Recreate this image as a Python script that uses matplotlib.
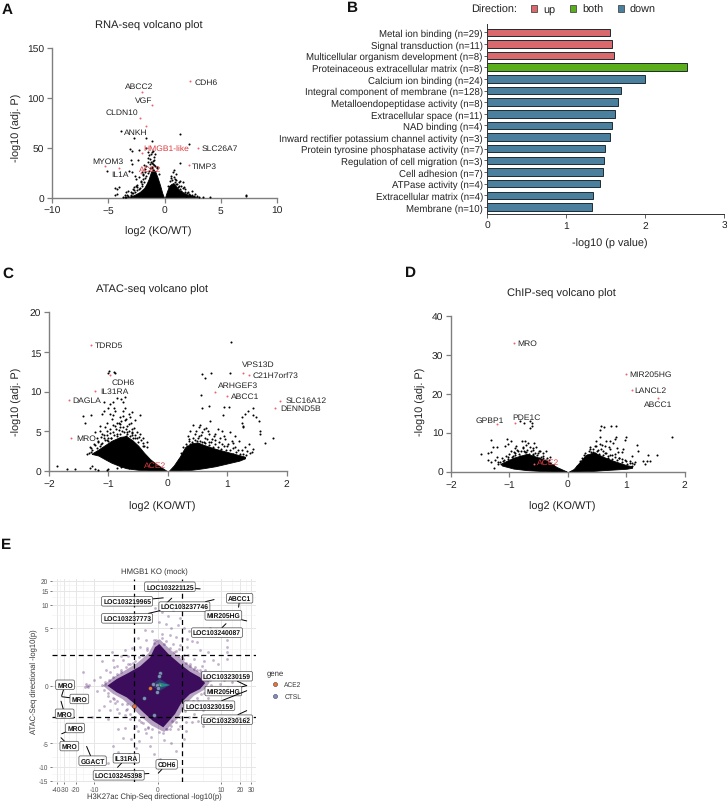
import matplotlib
matplotlib.use("Agg")
import matplotlib.pyplot as plt
from matplotlib.patches import Patch
from matplotlib.lines import Line2D

plt.rcParams['font.family'] = ['Liberation Sans', 'DejaVu Sans']
plt.rcParams['text.hinting'] = 'no_hinting'

W, H = 727, 803
TXT = '#222222'
AXC = '#7f7f7f'
RED = '#dc3a40'

# Panel A
rna_left_x = [-0.03, -0.2, -0.4, -0.6, -0.8, -1.0, -1.2, -1.4, -1.6, -1.8, -2.2, -2.6, -3.0, -3.5]
rna_left_y = [0, 5, 13, 20, 26, 29, 26, 19, 14, 10, 6, 3.5, 1.5, 0.2]
rna_right_x = [0.03, 0.2, 0.4, 0.6, 0.8, 1.0, 1.3, 1.6, 2.0, 2.5, 3.0]
rna_right_y = [0, 6, 12, 14, 15, 12, 8, 6, 3.5, 2, 0.5]
rna_x = [-3.9, -2.7, -1.6, -1.15, 1.4, 2.15, -3.07, -2.9, 1.36, -1.6, -1.45, -1.15, -1, -2.3, -2.33, -2.95,
         -2.84, -3.13, -2.9, -5.1, -4, -4.4, -4.25, -4.2, -4.4, -3.5, -3.4, -3.2, -3, -2.5, -2.6, -2.3, -2.5,
         -2.8, -2, -1.75, -1.6, -1.3, -1, -0.85, -1.4, -1.15, -1.9, -2, -2.25, -1.6, 0.83, 0.77, 0.62, 1.06,
         1.36, 1.65, 1.8, 2.1, 2.4, 2.7, 2.85, 4, 7.2, 7.2, 1.95, 1.5, 1.06, 0.9, -3.3, -2.9, -2.7, -2.4,
         -2.1, -1.9, -1.7, -1.2, -0.9, -1.5, -0.7, 2.3, 1.7, 1.3,
         -0.5, -0.7, -0.9, -1.1, -1.3, -1.5, -1.7, -1.8, -2, -2.2, -2.4, -2.6, -2.8, -3.0, -3.2, -3.4, -3.7, -1.05,
         -1.25, -0.95, -1.35, -0.8, -1.1, -1.9, -2.1, -2.4, -2.7, -3, -3.5, -1.2, -1.5, -1.8,
         0.3, 0.5, 0.7, 0.9, 1.1, 1.2, 1.4, 1.6, 1.8, 2, 2.2, 2.4, 2.6, 3.1, 3.4, 0.6, 0.8, 1, 1.25, 1.5]
rna_y = [67, 60, 60, 57, 64, 54, 49, 47, 35, 50, 46, 46, 47, 48, 38, 38,
         34, 27, 26, 27, 11, 10.5, 9, 4, 3, 1.3, 6, 7, 2, 19, 22, 21, 12,
         9, 26, 29, 32, 34, 34, 32, 27, 31, 19, 14, 9, 22, 28, 26, 22, 24,
         17, 16, 9, 6, 7, 4, 2.3, 1, 3, 2, 2, 7, 14, 19, 3, 5, 8, 11,
         17, 23, 26, 36, 38, 40, 30, 3, 11, 12,
         24, 31, 33, 35, 30, 25, 20, 16, 12, 10, 8, 6, 5, 3.5, 2.5, 1.5, 1, 37,
         39, 41, 43, 44, 30, 24, 16, 13, 11, 6, 3.5, 44, 36, 33,
         12, 17, 18, 16, 14, 11, 9, 10, 6, 5, 4, 3, 2, 1, 0.8, 20, 21, 18, 16, 12]
rna_red_x = [2.3, -2, -1.1, -2.2, -1.6, -2, 3, 2.15, -5.3, -4, -2.1]
rna_red_y = [117, 106, 93, 80, 72, 45, 50, 33, 32, 30, 25]
rna_labels = ['CDH6', 'ABCC2', 'VGF', 'CLDN10', 'ANKH', 'HMGB1-like', 'SLC26A7', 'MYOM3', 'IL1A', 'ACE2', 'TIMP3']
rna_label_x = [3.7, -2.25, -1.86, -3.8, -2.57, 0.18, 4.9, -5.05, -3.96, -1.24, 3.57]
rna_label_y = [116, 111.7, 98.3, 85.7, 65.7, 50, 50, 36.7, 24, 29, 32.3]

# Panel B
terms = ['Metal ion binding (n=29)', 'Signal transduction (n=11)', 'Multicellular organism development (n=8)',
         'Proteinaceous extracellular matrix (n=8)', 'Calcium ion binding (n=24)',
         'Integral component of membrane (n=128)', 'Metalloendopeptidase activity (n=8)',
         'Extracellular space (n=11)', 'NAD binding (n=4)', 'Inward rectifier potassium channel activity (n=3)',
         'Protein tyrosine phosphatase activity (n=7)', 'Regulation of cell migration (n=3)',
         'Cell adhesion (n=7)', 'ATPase activity (n=4)', 'Extracellular matrix (n=4)', 'Membrane (n=10)']
term_vals = [1.56, 1.585, 1.6, 2.53, 2.0, 1.70, 1.66, 1.62, 1.575, 1.555, 1.495, 1.485, 1.47, 1.43, 1.34, 1.33]
term_dirs = ['up', 'up', 'up', 'both'] + ['down'] * 12
dir_cols = {'up': '#d9696d', 'both': '#5aae1c', 'down': '#4a7f9e'}

# Panel C
atac_left_x = [-0.02, -0.2, -0.3, -0.4, -0.5, -0.6, -0.7, -0.8, -0.95, -1.05, -1.17, -1.28]
atac_left_hi = [0.02, 0.9, 1.5, 2.3, 3.2, 3.9, 4.4, 4.3, 3.8, 3.3, 2.7, 2.2]
atac_left_lo = [0, 0.03, 0.05, 0.1, 0.15, 0.25, 0.35, 0.6, 1.05, 1.45, 1.95, 2.15]
atac_right_x = [0.02, 0.1, 0.2, 0.29, 0.4, 0.5, 0.6, 0.8, 1.0, 1.2, 1.3]
atac_right_hi = [0.05, 0.7, 1.8, 3.0, 3.5, 3.6, 3.3, 2.8, 2.4, 2.0, 1.8]
atac_right_lo = [0, 0.02, 0.05, 0.1, 0.15, 0.25, 0.35, 0.6, 0.95, 1.3, 1.6]
atac_x = [1.07, -1, -0.89, 0.57, 0.63, 0.72, 1.05, 0.56, 0.58, 0.7, 0.95, 1.03, 0.92, 1.44, 1.29, 1.24, 1.24, 1.35,
          1.43, 1.48, 1.54, 1.26, 1.26, 1.55, 1.55, 1.77, 1.63, 1.43, 1.42, 0.71, 0.54, 0.52, 0.43, 0.38, 0.6,
          0.85, 0.91, 0.8, 1.05, 1.13, 1.19, 1.36, 1.3, 0.45, 0.35, 0.52, 0.63, 0.69, 0.74, 0.88, 0.97, 1.08,
          0.49, 0.57, 0.8, 1, 1.13, 1.25, 1.39, 0.38, 0.69, 0.91, 1.1,
          -0.9, -0.99, -0.72, -0.78, -0.86, -0.92, -0.98, -1, -1.08, -0.75, -0.72, -0.76, -0.89, -0.97, -1.42,
          -1.39, -1.3, -1.08, -1.11, -0.47, -0.61, -0.66, -0.8, -0.92, -0.94, -0.83, -0.63, -0.55, -0.72, -1.14,
          -1.06, -0.97, -0.89, -0.8, -0.69, -0.61, -0.52, -1.22, -1.11, -1.03, -0.92, -0.8, -0.69, -0.61, -0.49,
          -1.2, -1.08, -1.31, -1.25, -1.3, -1.17, -1, -0.86, -0.72, -0.35, -1.87, -1.69, -1.56, -1.31, -1.28,
          -1.22, -1.17, -1.03, -1, -0.86, -0.78, -0.66, -0.95, -0.7, -0.55, -0.42, -0.85, -1.02, -1.12, -0.6,
          -0.35, -0.4, -0.42, -0.45, -0.5, -0.52, -0.55, -0.58, -0.6, -0.63, -0.65, -0.68, -0.7, -0.73, -0.75, -0.77,
          -0.8, -0.83, -0.85, -0.88, -0.9, -0.93, -0.95, -0.98, -1, -1.02, -1.05, -1.07, -1.1, -1.13, -1.15, -1.18,
          -1.2, -1.23, -1.27, -1.3, -1.33, -1.36, -0.62, -0.7, -0.78, -0.85, -0.65, -0.57, -0.47, -0.42, -0.75, -1.02,
          -1.15, -0.9,
          0.22, 0.26, 0.3, 0.33, 0.36, 0.4, 0.42, 0.46, 0.5, 0.54, 0.56, 0.6, 0.63, 0.66, 0.7, 0.73, 0.76, 0.8, 0.84,
          0.86, 0.9, 0.94, 0.98, 1.02, 1.05, 1.1, 1.14, 1.18, 1.22, 1.27, 1.32, 0.48, 0.58, 0.68, 0.78, 0.95, 1.1,
          1.34, 0.34, 0.65]
atac_y = [16.2, 12.4, 12.4, 12.2, 11.7, 12.3, 12.3, 9.6, 7.95, 8.2, 8.1, 8.1, 7, 8, 7.2, 6.85, 6.1, 7.5,
          7, 6.8, 6.3, 5.7, 5.5, 5.1, 4.6, 4.1, 3.5, 2.8, 2.4, 6.3, 5.8, 5.5, 5.8, 5, 5.3,
          5.3, 5, 4.6, 4.9, 4.4, 3.8, 3.4, 3, 4.6, 4, 4.4, 4.2, 4.6, 4, 4.2, 4, 3.8,
          3.8, 3.6, 3.4, 3.2, 3, 2.6, 2.3, 3.4, 3.6, 3.4, 2.2,
          12.5, 12.6, 9.3, 9.1, 9.2, 8.7, 8.4, 8, 8.7, 8.7, 8, 7.6, 7.6, 7.2, 6.9,
          6.1, 7.1, 7.6, 7.2, 7, 7.4, 7.2, 6.8, 7, 6.6, 6.1, 6.8, 6.4, 6.4, 5.7,
          5.5, 5.3, 5.7, 5.5, 5.7, 5.3, 4.9, 4.9, 4.7, 4.5, 4.9, 4.7, 4.9, 4.5, 4.3,
          4.1, 4.1, 3, 3.4, 2.35, 3.6, 3.8, 3.8, 4.3, 3.6, 0.6, 0.27, 0.3, 0.4, 0.6,
          0.3, 0.15, 0.1, 0.3, 0.35, 0.5, 0.35, 4.2, 4.4, 4.2, 3.2, 4.4, 3.9, 3.4, 4.9,
          3, 3.1, 3.5, 3.9, 3.7, 4.1, 4.5, 4.2, 4.8, 4.4, 5.1, 4.7, 5.3, 4.9, 5.6, 5,
          5.9, 5.2, 4.7, 5.3, 4.5, 5.8, 4.2, 4.8, 4.1, 5.1, 3.9, 4.5, 3.5, 4.3, 3.1, 3.8,
          2.9, 3.3, 2.6, 2.9, 2.3, 2.1, 6.1, 6.6, 6.3, 6, 5.9, 5.4, 4.6, 4.2, 6.9, 6,
          5, 7.9,
          2.3, 3, 3.4, 3.1, 3.8, 3.6, 4.2, 3.9, 4.1, 3.8, 4.5, 3.7, 3.5, 4, 3.3, 3.7, 3, 3.9, 3,
          3.6, 2.8, 3.2, 2.7, 3.4, 2.6, 2.9, 2.4, 2.7, 2.2, 2.2, 2, 5.1, 4.9, 5, 4.4, 4.4, 3.5,
          2.5, 4.4, 5.4]
atac_red_x = [-1.3, -0.98, -1.22, -1.67, -1.63, 1.26, 1.36, 0.8, 1, 1.89, 1.81]
atac_red_y = [15.9, 12.1, 10.1, 8.95, 4.2, 12.35, 12.15, 9.96, 9.5, 8.8, 7.95]
atac_labels = ['TDRD5', 'VPS13D', 'C21H7orf73', 'CDH6', 'ARHGEF3', 'IL31RA', 'ABCC1', 'DAGLA', 'SLC16A12', 'DENND5B', 'MRO', 'ACE2']
atac_label_x = [-0.99, 1.53, 1.81, -0.75, 1.18, -0.9, 1.3, -1.36, 2.33, 2.23, -1.38, -0.22]
atac_label_y = [15.9, 13.5, 12.1, 11.2, 10.8, 10.1, 9.5, 8.95, 8.95, 7.94, 4.2, 0.8]

# Panel D
chip_left_x = [-0.02, -0.19, -0.36, -0.53, -0.7, -0.93, -1.13]
chip_left_hi = [0.05, 1.2, 2.8, 3.8, 4.6, 3.6, 2.2]
chip_left_lo = [0, 0.03, 0.08, 0.25, 0.4, 0.8, 1.6]
chip_right_x = [0.02, 0.1, 0.21, 0.3, 0.44, 0.61, 0.78, 1.0, 1.1]
chip_right_hi = [0.05, 0.7, 2.6, 4.2, 5.0, 3.8, 2.8, 1.7, 1.4]
chip_right_lo = [0, 0.03, 0.06, 0.1, 0.2, 0.4, 0.55, 0.75, 1.0]
chip_x = [-0.82, -0.75, -0.64, -0.61, -0.64, -0.62, 1.78, 0.57, 0.55, 0.62, 0.73, 0.82, 0.55, 0.66, 0.72, 0.49, 0.83,
          0.81, 0.78, 1, 0.98, 1.18, 1.2, 1.09, 1.38, 1.52, 1.29, 1.35, 1.41, 1.32, 1.15, 1.06, 1, 0.95, 0.86, 0.72,
          0.6, 0.46, 0.49, 0.38, 0.69, 0.8, 0.92, 0.55, 0.43, 0.63,
          -1.32, -1.05, -0.98, -1.48, -1.28, -1.22, -1.31, -1.37, -1.37, -1.31, -1.27, -1.19, -1.21, -1.08, -1.02,
          -0.79, -0.74, -0.68, -0.58, -0.88, -0.77, -0.65, -0.54, -0.48, -0.37, -0.97, -0.85, -0.71, -0.59, -0.94,
          -1.02, -1.11, -0.42, -0.31, -0.82, -0.51, -0.9, -0.6, -0.75, 0.35, 0.52, 0.66, 0.75, 0.88, 1.1,
          -0.25, -0.3, -0.33, -0.38, -0.42, -0.46, -0.5, -0.53, -0.56, -0.6, -0.63, -0.66, -0.7, -0.73, -0.76, -0.8,
          -0.83, -0.87, -0.9, -0.93, -0.96, -1, -1.03, -1.06, -1.1, -1.13, -1.16, -1.2, -0.72, -0.6, -0.5, -0.9, -1.25,
          -1.14, -0.42, -0.35,
          0.15, 0.2, 0.24, 0.27, 0.3, 0.33, 0.36, 0.4, 0.43, 0.46, 0.5, 0.53, 0.56, 0.6, 0.64, 0.68, 0.72, 0.76, 0.8,
          0.84, 0.88, 0.93, 0.97, 1.02, 1.06, 1.1, 1.14, 0.58, 0.48, 0.7, 0.84, 0.38, 0.92]
chip_y = [12.9, 12.4, 13.1, 12.5, 11.1, 11.8, 8.8, 11.8, 10.8, 11.4, 11.8, 11.7, 9, 7.8, 7.8, 8, 8.8,
          8.4, 7.5, 8.8, 8.2, 6.9, 5.4, 4.1, 4.4, 4.3, 2.8, 2.7, 2.7, 2, 2.4, 2.8, 2.8, 5.8, 5, 5.8,
          5.4, 6.7, 4.5, 5.8, 4.1, 3.7, 3.3, 7.1, 5, 6.7,
          8.1, 8.3, 7.8, 4.5, 6.3, 6.3, 5, 4.8, 3, 2.4, 0.9, 2.4, 3.7, 6.7, 7.1,
          7.8, 8, 7.4, 7.4, 6.7, 6.3, 6.3, 6.3, 5.4, 5.4, 5.4, 5.4, 5, 4.5, 4.1,
          3.7, 2.8, 4.1, 3.7, 4.1, 4.9, 4.8, 5.6, 5.2, 4.2, 5.5, 4.9, 4.4, 3.6, 2.2,
          1.7, 2.3, 2.9, 3, 3.4, 3.9, 3.6, 4.2, 4.8, 4.3, 5.2, 4.6, 5.6, 5, 6, 5.2,
          4.6, 5.5, 4.2, 5, 3.8, 4.5, 3.3, 4, 2.9, 3.4, 2.4, 2, 6.8, 6.2, 5.2, 6, 2.9,
          2, 4.8, 3.6,
          1.4, 2.8, 3.4, 4.4, 4.9, 4.2, 5.4, 5, 5.8, 4.8, 5.4, 4.6, 5.8, 4.2, 4.8, 3.6, 4.4, 3.2, 4.6,
          2.9, 3.6, 2.6, 3, 1.9, 2.2, 1.5, 1.9, 6.8, 6.6, 6.4, 6.2, 6.3, 5]
chip_red_x = [-0.93, 1.0, 1.09, 1.54, -1.21, -0.91, -0.58]
chip_red_y = [33, 25.2, 21.1, 19, 12.3, 12.4, 2]
chip_labels = ['MRO', 'MIR205HG', 'LANCL2', 'ABCC1', 'GPBP1', 'PDE1C', 'ACE2']
chip_label_x = [-0.69, 1.42, 1.41, 1.55, -1.34, -0.7, -0.34]
chip_label_y = [33, 25.1, 21.1, 17.4, 13.4, 14.1, 2.6]

# Panel E
star_x = [0.12, 0.8, 1.81, 2.94, 4.48, 5.46, 4.48, 2.94, 1.98, 1.35, 0.41, -0.37, -1.1, -1.85, -2.78, -4.24, -6.1, -4.24, -2.58, -1.38, -0.56, -0.2]
star_y = [2.98, 2.07, 1.32, 0.82, 0.48, 0.15, -0.19, -0.48, -0.98, -1.8, -2.98, -2.35, -1.67, -1.1, -0.68, -0.38, 0, 0.38, 0.74, 1.16, 1.8, 2.66]
halo_x = [0.15, 0.95, 2.15, 3.5, 5.3, 6.5, 5.3, 3.5, 2.35, 1.6, 0.48, -0.45, -1.3, -2.2, -3.3, -5, -7.2, -5, -3.05, -1.65, -0.66, -0.24]
halo_y = [3.5, 2.45, 1.55, 1, 0.58, 0.18, -0.23, -0.58, -1.15, -2.15, -3.5, -2.8, -2, -1.3, -0.8, -0.45, 0, 0.45, 0.88, 1.38, 2.15, 3.15]
core_blue_x = [0.15, 0.9, 0.15, -0.5]
core_blue_y = [0.4, 0.03, -0.3, 0.03]
core_teal_x = [0.12, 0.95, 0.12, -0.2]
core_teal_y = [0.18, 0.04, -0.12, 0.03]
core_green_x = [0.1, 0.3, 0.1, -0.1]
core_green_y = [0.1, 0.03, -0.05, 0.03]
cloud_x = [-0.2, 0.3, 0.8, 1.2, 1.8, -0.6, 0.1, 0.6, 1, 1.6, 2.2, 2.8, 3.4, -1, -0.4, 0.3, 0.9, 1.4, 2, 2.6, 3.2, 4, -1.6, -0.9,
           -0.3, 0.6, 1.2, 1.8, 2.6, -2.2, -1.4, -0.8, 5, 6.5, 8.4, 12, 12.5, 12.5, 12.5, 12.3, 6, 4.5, 7.5, 9, 5.2,
           -13, -13.5, -12.6, -14, -12, -15, -10, -9, -8, -7.5, -6.5, -6, -5, -4.2, -3.5, -3, -7, -5.5, -4.5, -3.8, -8.5,
           -11, -6, -2.4, -2, -1.6, -3, -4, -3.2, -2.3, -1.5, -0.9, -0.5, -5, -7, -6, -4, -2.5, -1.8, -0.6, -0.3, 0.4, 0.9,
           0.5, 1, 1.8, 2.4, 3.2, 2.8, 4.2, 5, 6, 5, 7, 9, 3.8, 2.2, 1.4, 0.2, 5.5, 6.5, 7.5, 8.5, 9.5, 11, 13, 15,
           -2.6, -3.6, -2.7, -4.8, -6.8, -5.2, 2.2, 3, 3.6, 4.4, 1.4, 2, 3.1, 4.2, -1.2, -2.1, -2.9, -1.3, -0.7, 0.7, 1.1,
           0.9, 1.3, 1.7, 2.1, 2.5, 3, 3.5, 4, 4.6, -0.8, -1.1, -1.5, -1.9, -2.4, -2.9, -3.5, -4.2, -5, -5.8, -6.8, -7.6,
           -7, -6, -5, -4.2, -3.4, -2.8, -2.4, -1.9, -1.5, -1.1, -0.7, -0.4, 0.1, 0.6, 1, 1.4, 1.8, 2.3, 2.8, 3.4, 4, 4.6,
           5.3, 6.2, 6.8, 6.2, 5.6, 0.3, -0.1, 0.5, -0.3, 1.7, 2.7, 3.5, 4.8, -2.6, -3.2, -4.8, -5.5, -3, -4.2, -5.5, -1.8,
           -1, 1.6, 2.4, 3.5, 4.6, 6]
cloud_y = [9, 8, 7.2, 8.5, 6.8, 6.5, 6, 5.6, 5, 5.4, 5, 4.6, 4.2, 4.7, 4.5, 4.2, 4, 3.8, 3.6, 3.5, 3.3, 3.2, 3.6, 3.4,
           3.4, 3.3, 3, 2.9, 2.7, 2.6, 2.7, 2.6, 4.6, 5, 4.8, 4.2, 3.4, 2.7, 2.2, 1.7, 2.2, 2.4, 1.6, 1.3, 1.5,
           0, 0.1, -0.05, -0.1, 0.05, 0.8, 0.3, -0.3, 0.5, 1.5, 0.9, -0.6, 1.6, 1.2, 1.9, 2.4, -1.2, -1.5, -1, -1.7, -1.5,
           -2, -2.2, -2.2, -3, -3.4, -3, -3.2, -4.2, -4.4, -4.6, -3.6, -4.1, -5.5, -7.5, -9, -6.5, -7, -5.8, -5.5, -7, -3.6, -3.2,
           -4.5, -5, -2.8, -3.4, -2.5, -2, -2.4, -2.8, -2.1, -1.5, -1.2, -1, -1.4, -4.4, -6.4, -8, 0.9, 0.3, 0.5, -0.2, 0.1, 0.3, -0.1, 0.2,
           1.3, 0.8, -1.1, -0.8, 0.1, 2.2, 2, 1.3, 1.1, 0.9, 2.3, 1.8, -1.2, -0.9, 2, 1.4, -1.5, -2.5, -3, -3.2, -2.4,
           2.6, 2.2, 1.9, 1.7, 1.4, 1.2, 1, 0.9, 0.8, 2.4, 2, 1.8, 1.5, 1.3, 1.1, 0.9, 0.7, 0.5, 0.35, 0.2, 0.05,
           -0.25, -0.4, -0.7, -0.9, -1.1, -1.4, -1.8, -2, -2.3, -2.6, -2.9, -3.2, -3.5, -3.2, -2.8, -2.5, -2, -1.6, -1.2, -0.9, -0.7, -0.5,
           -0.4, -0.25, 0.05, 0.3, 0.55, 3.6, 3.4, 3, 3.1, 2.5, 2, 1.7, 1.2, 1.9, 1.6, 1.1, 0.8, -1.9, -1.4, -0.9, -2.8,
           -3.2, -3.2, -2.5, -1.8, -1.1, -0.7]
ace2_x = [-0.59, -2.0]
ace2_y = [-0.11, -1.25]
ctsl_x = [0.15, 0.07, -0.32, -0.07, 0, -0.02, -1.04, -0.27]
ctsl_y = [0.72, 0.55, 0.08, 0.04, -0.11, -0.38, -0.72, -1.84]
gene_names = ['LOC103221125', 'LOC103219965', 'LOC103237746', 'LOC103237773', 'ABCC1', 'MIR205HG', 'LOC103240087',
              'LOC103230159', 'MIR205HG', 'LOC103230159', 'LOC103230162', 'MRO', 'MRO', 'MRO', 'MRO', 'MRO',
              'GGACT', 'IL31RA', 'LOC103245398', 'CDH6']
gene_x = [4.5, 0.41, 7.7, 0.17, 19.1, 25.7, 12, 25.7, 25.7, 25.7, 25.7, -33.2, -33.2, -34, -33.2, -34, -13.3, -4.1, -0.65, 0.04]
gene_y = [15.8, 12.2, 11.6, 8.4, 9.3, 6.2, 5.7, 0, 0, -0.29, -1.55, -0.58, -0.64, -0.92, -3.7, -4.2, -5.5, -10.2, -12.2, -12.1]
gene_tx = [.578, .368, .649, .368, .920, .840, .809, .858, .840, .771, .858, .064, .134, .062, .113, .085, .199, .364, .327, .562]
gene_ty = [.962, .890, .864, .806, .905, .821, .736, .521, .448, .376, .307, .479, .409, .336, .266, .177, .105, .117, .033, .087]


def add_ax(l, r, t, b):
    return fig.add_axes([l / W, 1 - b / H, (r - l) / W, (b - t) / H])


def put(x, y, s, **kw):
    kw.setdefault('color', TXT)
    kw.setdefault('ha', 'center')
    kw.setdefault('va', 'center')
    fig.text(x / W, 1 - y / H, s, **kw)


def volcano(ax, clouds, xs, ys, rx, ry, labels, lx, ly, xlim, ylim, xticks, yticks):
    for cx, lo, hi in clouds:
        ax.fill_between(cx, lo, hi, color='black', lw=0.6, zorder=2)
    ax.scatter(xs, ys, s=2.2, c='black', lw=0, zorder=3)
    ax.scatter(rx, ry, s=2.0, c='#f0606a', lw=0, zorder=3)
    for s, x, y in zip(labels, lx, ly):
        col = RED if s in ('ACE2', 'HMGB1-like') else TXT
        ax.text(x, y, s, fontsize=6.1, color=col, ha='center', va='center', zorder=5, clip_on=False)
    ax.set_xlim(xlim)
    ax.set_ylim(ylim)
    ax.set_xticks(xticks)
    ax.set_yticks(yticks)
    ax.spines[['top', 'right']].set_visible(False)
    ax.spines[['left', 'bottom']].set_color(AXC)
    ax.spines[['left', 'bottom']].set_linewidth(1.0)
    ax.tick_params(length=3.6, width=0.9, color=AXC, labelsize=7.4, labelcolor=TXT, pad=2)
    ax.patch.set_alpha(0)


fig = plt.figure(figsize=(W / 100, H / 100), dpi=100)

# A
ax = add_ax(51.7, 277.3, 49, 199)
volcano(ax, [(rna_left_x, 0, rna_left_y), (rna_right_x, 0, rna_right_y)], rna_x, rna_y, rna_red_x, rna_red_y,
        rna_labels, rna_label_x, rna_label_y, (-10, 10), (0, 150), [-10, -5, 0, 5, 10], [0, 50, 100, 150])
put(149, 26, 'RNA-seq volcano plot', fontsize=8)
put(158.7, 232, 'log2 (KO/WT)', fontsize=7.8)
put(16.7, 128, '-log10 (adj. P)', fontsize=7.8, rotation=90)

# B
ax = add_ax(487.3, 724, 25, 215)
ax.barh(range(len(terms)), term_vals, height=0.64, color=[dir_cols[d] for d in term_dirs],
        edgecolor='#1d2b33', linewidth=0.7)
ax.set_ylim(15.6, -0.71)
ax.set_xlim(0, 3)
ax.set_yticks(range(len(terms)))
ax.set_yticklabels(terms, fontsize=6.95, color=TXT)
ax.set_xticks([0, 1, 2, 3])
ax.spines[['top', 'right']].set_visible(False)
ax.spines[['left', 'bottom']].set_color('#333333')
ax.spines[['left', 'bottom']].set_linewidth(0.7)
ax.tick_params(axis='y', length=2.2, width=0.6, color='#444444', pad=1)
ax.tick_params(axis='x', length=2.6, width=0.6, color='#444444', labelsize=7.4, labelcolor=TXT, pad=2)
ax.patch.set_alpha(0)
put(610, 244, '-log10 (p value)', fontsize=7.8)
put(494, 10, 'Direction:', fontsize=7.8)
handles = [Patch(facecolor=dir_cols[d], edgecolor='#333333', linewidth=0.5, label=d) for d in ('up', 'both', 'down')]
fig.legend(handles=handles, ncol=3, loc='center left', bbox_to_anchor=(526 / W, 1 - 10.5 / H), frameon=False,
           fontsize=7.8, handlelength=0.55, handleheight=0.6, handletextpad=0.55, columnspacing=1.35,
           borderpad=0, labelcolor=TXT)

# C
ax = add_ax(49, 286.7, 313.3, 472)
volcano(ax, [(atac_left_x, atac_left_lo, atac_left_hi), (atac_right_x, atac_right_lo, atac_right_hi)],
        atac_x, atac_y, atac_red_x, atac_red_y, atac_labels, atac_label_x, atac_label_y,
        (-2, 2), (0, 20), [-2, -1, 0, 1, 2], [0, 5, 10, 15, 20])
put(152, 290, 'ATAC-seq volcano plot', fontsize=8)
put(162, 507, 'log2 (KO/WT)', fontsize=7.8)
put(17, 402, '-log10 (adj. P)', fontsize=7.8, rotation=90)

# D
ax = add_ax(451, 684.7, 317, 472.7)
volcano(ax, [(chip_left_x, chip_left_lo, chip_left_hi), (chip_right_x, chip_right_lo, chip_right_hi)],
        chip_x, chip_y, chip_red_x, chip_red_y, chip_labels, chip_label_x, chip_label_y,
        (-2, 2), (0, 40), [-2, -1, 0, 1, 2], [0, 10, 20, 30, 40])
put(561.7, 294, 'ChIP-seq volcano plot', fontsize=8)
put(562.7, 507, 'log2 (KO/WT)', fontsize=7.8)
put(420.7, 402, '-log10 (adj. P)', fontsize=7.8, rotation=90)

# E
ax = add_ax(52, 256, 580, 783)
ax.set_xscale('asinh', linear_width=2)
ax.set_yscale('asinh', linear_width=2)
ax.set_xlim(-47.3, 36.1)
ax.set_ylim(-15.6, 21)
ax.set_axisbelow(True)
xt = [-40, -30, -20, -10, 0, 10, 20, 30]
yt = [-15, -10, -5, 0, 5, 10, 15, 20]
ax.set_xticks(xt)
ax.set_xticklabels([str(v) for v in xt])
ax.set_yticks(yt)
ax.set_yticklabels([str(v) for v in yt])
ax.set_xticks([-35, -25, -15, -5, 5, 15, 25], minor=True)
ax.set_yticks([-12.5, -7.5, -2.5, 2.5, 7.5, 12.5, 17.5], minor=True)
ax.grid(which='major', color='#e6e6e6', lw=0.7)
ax.grid(which='minor', color='#efefef', lw=0.4)
ax.tick_params(which='minor', length=0)
ax.tick_params(which='major', length=1.6, width=0.5, color='#444444', labelsize=4.7, labelcolor='#4d4d4d', pad=1)
for s in ax.spines.values():
    s.set_visible(False)
ax.scatter(cloud_x, cloud_y, s=4, c='#5b2a78', alpha=0.36, lw=0, zorder=2)
ax.fill(halo_x, halo_y, color='#440f60', alpha=0.38, lw=0, zorder=2.2)
ax.fill(star_x, star_y, color='#3b0d5c', lw=0, zorder=2.4)
ax.fill(core_blue_x, core_blue_y, color='#2f4f86', alpha=0.7, lw=0, zorder=2.6)
ax.fill(core_teal_x, core_teal_y, color='#25908c', alpha=0.9, lw=0, zorder=2.7)
ax.fill(core_green_x, core_green_y, color='#6fce5a', lw=0, zorder=2.8)
ax.axhline(2, color='black', lw=0.9, ls=(0, (4, 3)), zorder=3)
ax.axhline(-2, color='black', lw=0.9, ls=(0, (4, 3)), zorder=3)
ax.axvline(2, color='black', lw=0.9, ls=(0, (4, 3)), zorder=3)
ax.axvline(-2, color='black', lw=0.9, ls=(0, (4, 3)), zorder=3)
ax.scatter(ctsl_x, ctsl_y, s=8, c='#7f8fc4', edgecolors='#222222', linewidths=0.3, zorder=4)
ax.scatter(ace2_x, ace2_y, s=8, c='#e8743b', edgecolors='#222222', linewidths=0.3, zorder=4)
for s, x, y, tx, ty in zip(gene_names, gene_x, gene_y, gene_tx, gene_ty):
    ax.annotate(s, xy=(x, y), xytext=(tx, ty), textcoords='axes fraction', fontsize=4.9, color='#111111',
                fontweight='bold', ha='center', va='center', annotation_clip=False, zorder=6,
                bbox=dict(boxstyle='round,pad=0.22', fc='white', ec='#222222', lw=0.5, alpha=0.8),
                arrowprops=dict(arrowstyle='-', color='black', lw=0.7, shrinkA=0, shrinkB=0))
ax.annotate('', xy=(1.07, 12.1), xytext=(0.55, 0.87), textcoords='axes fraction',
            arrowprops=dict(arrowstyle='-', color='black', lw=0.7, shrinkA=0, shrinkB=0), zorder=5)
put(154, 572.7, 'HMGB1 KO (mock)', fontsize=5.6, color='#333333')
put(154, 797.7, 'H3K27ac Chip-Seq directional -log10(p)', fontsize=5.5, color='#333333')
put(34, 681.7, 'ATAC-Seq directional -log10(p)', fontsize=5.5, color='#333333', rotation=90)
put(267, 673, 'gene', fontsize=5.6, color='#333333', ha='left')
gene_handles = [Line2D([], [], ls='', marker='o', ms=3, mfc='#e8743b', mec='#222222', mew=0.3, label='ACE2'),
                Line2D([], [], ls='', marker='o', ms=3, mfc='#7f8fc4', mec='#222222', mew=0.3, label='CTSL')]
fig.legend(handles=gene_handles, loc='upper left', bbox_to_anchor=(265 / W, 1 - 679 / H), frameon=False, fontsize=4.8,
           handletextpad=0.4, labelspacing=0.75, borderpad=0, labelcolor='#333333')

# panel letters
for s, x, y in [('A', 2, 10), ('B', 347, 8), ('C', 2, 274), ('D', 405, 273), ('E', 1, 545)]:
    put(x, y, s, fontsize=11, fontweight='bold', color='#111111', ha='left')

fig.savefig('out.png', dpi=100)
